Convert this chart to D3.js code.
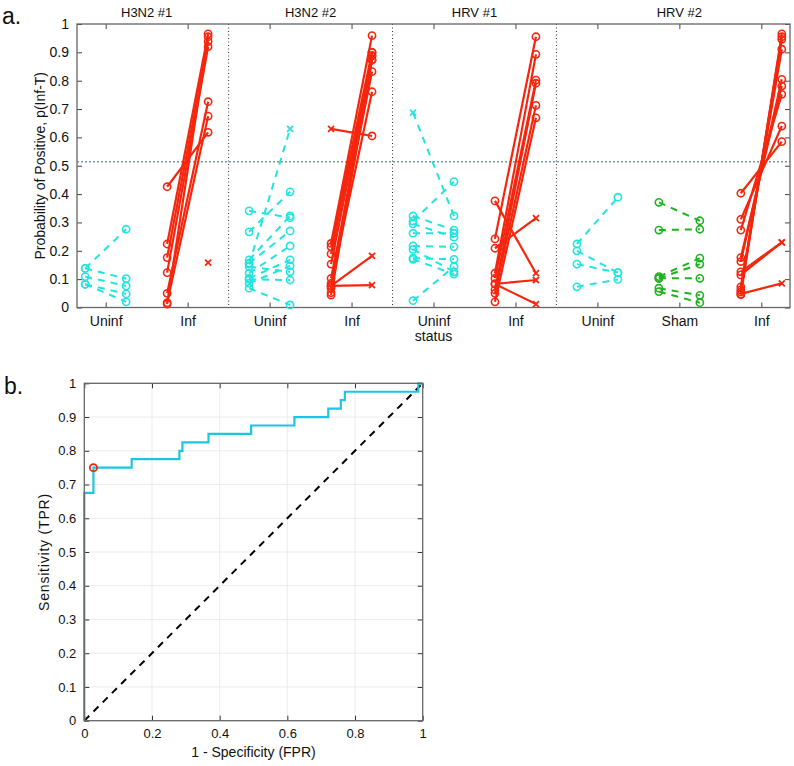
<!DOCTYPE html>
<html><head><meta charset="utf-8">
<script src="https://cdn.jsdelivr.net/npm/d3@7/dist/d3.min.js"></script>
<style>body{margin:0;background:#fff}svg{font-family:"Liberation Sans",Arial,sans-serif}</style>
</head><body>
<script>
// ---------- DATA ----------
const categories = ["Uninf","Inf","Uninf","Inf","Uninf","Inf","Uninf","Sham","Inf"];
const catPos = [1,2,3,4,5,6,7,8,9];
const titles = ["H3N2 #1","H3N2 #2","HRV #1","HRV #2"];
const titlePos = [1.5,3.5,5.5,8];
const dividers = [2.5,4.5,6.5];
const threshold = 0.514;
const yTicksA = [0,0.1,0.2,0.3,0.4,0.5,0.6,0.7,0.8,0.9,1];
// each subject: [before, after, markers(before,after)]
const h3n2_1_uninf = [[0.138,0.276,"oo"],[0.138,0.102,"oo"],[0.109,0.076,"oo"],[0.082,0.048,"oo"],[0.082,0.020,"oo"]];
const h3n2_1_inf = [[0.426,0.618,"oo"],[0.224,0.965,"oo"],[0.176,0.938,"oo"],[0.123,0.920,"oo"],[0.050,0.726,"oo"],[0.017,0.675,"oo"],[0.012,0.955,"oo"],[null,0.158,"xx"]];
const h3n2_2_uninf = [[0.341,0.317,"oo"],[0.267,0.408,"oo"],[0.168,0.323,"oo"],[0.156,0.270,"oo"],[0.153,0.630,"ox"],[0.144,0.126,"oo"],[0.121,0.217,"oo"],[0.103,0.168,"oo"],[0.099,0.097,"oo"],[0.085,0.147,"oo"],[0.068,0.009,"oo"]];
const h3n2_2_inf = [[0.630,0.605,"xo"],[0.226,0.959,"oo"],[0.214,0.900,"oo"],[0.189,0.888,"oo"],[0.153,0.873,"oo"],[0.103,0.832,"oo"],[0.085,0.761,"oo"],[0.076,0.182,"ox"],[0.076,0.079,"ox"],[0.068,0.900,"oo"],[0.052,0.888,"oo"],[0.044,0.873,"oo"]];
const hrv_1_uninf = [[0.687,0.323,"xo"],[0.323,0.273,"oo"],[0.305,0.444,"oo"],[0.295,0.248,"oo"],[0.262,0.262,"oo"],[0.217,0.214,"oo"],[0.205,0.126,"oo"],[0.174,0.170,"oo"],[0.170,0.118,"oo"],[0.024,0.144,"oo"]];
const hrv_1_inf = [[0.376,0.121,"ox"],[0.242,0.955,"oo"],[0.209,0.315,"ox"],[0.121,0.893,"oo"],[0.103,0.802,"oo"],[0.083,0.097,"ox"],[0.083,0.012,"ox"],[0.062,0.791,"oo"],[0.050,0.713,"oo"],[0.020,0.669,"oo"]];
const hrv_2_uninf = [[0.224,0.389,"oo"],[0.200,0.123,"oo"],[0.153,0.123,"oo"],[0.073,0.099,"oo"]];
const hrv_2_sham = [[0.371,0.306,"oo"],[0.273,0.276,"oo"],[0.109,0.174,"oo"],[0.103,0.153,"oo"],[0.103,0.103,"oo"],[0.068,0.043,"oo"],[0.056,0.017,"oo"]];
const hrv_2_inf = [[0.403,0.585,"oo"],[0.311,0.640,"oo"],[0.273,0.752,"oo"],[0.176,0.781,"oo"],[0.162,0.805,"oo"],[0.126,0.230,"ox"],[0.115,0.230,"ox"],[0.073,0.911,"oo"],[0.062,0.946,"oo"],[0.055,0.955,"oo"],[0.048,0.085,"ox"],[0.045,0.965,"oo"]];
const groups = [
  {pos:1, type:"uninf", data:h3n2_1_uninf},{pos:2, type:"inf", data:h3n2_1_inf},
  {pos:3, type:"uninf", data:h3n2_2_uninf},{pos:4, type:"inf", data:h3n2_2_inf},
  {pos:5, type:"uninf", data:hrv_1_uninf},{pos:6, type:"inf", data:hrv_1_inf},
  {pos:7, type:"uninf", data:hrv_2_uninf},{pos:8, type:"sham", data:hrv_2_sham},{pos:9, type:"inf", data:hrv_2_inf}];
// ROC
const rocFPR = [0,0,0.027,0.14,0.281,0.29,0.367,0.493,0.621,0.721,0.758,0.770,0.987,1];
const rocTPR = [0,0.675,0.75,0.775,0.8,0.825,0.85,0.875,0.9,0.925,0.95,0.975,1,1];
const opPoint = [0.027,0.75];
const ticksBx = [0,0.2,0.4,0.6,0.8,1];
const ticksBy = [0,0.1,0.2,0.3,0.4,0.5,0.6,0.7,0.8,0.9,1];

// ---------- STYLES ----------
const col = {uninf:"#22e4e0", inf:"#f5260e", sham:"#1fb41f"};
const W=794,H=766;
const svg = d3.select("body").append("svg").attr("width",W).attr("height",H);

// ---------- PANEL A ----------
const ax = {l:77,r:790,t:24,b:307.5};
const x = d3.scaleLinear().domain([0.65,9.35]).range([ax.l,ax.r]);
const y = d3.scaleLinear().domain([0,1]).range([ax.b,ax.t]);
const gA = svg.append("g");
const fmt = d => d===0?"0":(d===1?"1":d3.format(".1f")(d));

gA.selectAll("line.div").data(dividers).join("line")
  .attr("x1",d=>x(d)).attr("x2",d=>x(d)).attr("y1",ax.t).attr("y2",ax.b)
  .attr("stroke","#333").attr("stroke-width",1).attr("stroke-dasharray","1,2.5");
gA.append("line").attr("x1",ax.l).attr("x2",ax.r).attr("y1",y(threshold)).attr("y2",y(threshold))
  .attr("stroke","#7a9a9a").attr("stroke-width",1.6).attr("stroke-dasharray","2,2");

const yl = gA.append("g").attr("transform",`translate(${ax.l},0)`)
  .call(d3.axisLeft(y).tickValues(yTicksA).tickFormat(fmt).tickSizeInner(-5).tickSizeOuter(0).tickPadding(8));
const yr = gA.append("g").attr("transform",`translate(${ax.r},0)`)
  .call(d3.axisRight(y).tickValues(yTicksA).tickFormat("").tickSizeInner(-5).tickSizeOuter(0));
const xb = gA.append("g").attr("transform",`translate(0,${ax.b})`)
  .call(d3.axisBottom(x).tickValues(catPos).tickFormat((d,i)=>categories[i]).tickSizeInner(-5).tickSizeOuter(0).tickPadding(9));
const xt = gA.append("g").attr("transform",`translate(0,${ax.t})`)
  .call(d3.axisTop(x).tickValues(catPos).tickFormat("").tickSizeInner(-5).tickSizeOuter(0));
[yl,yr,xb,xt].forEach(g=>{g.select(".domain").remove();g.selectAll("line").attr("stroke","#444");
  g.selectAll("text").attr("font-size",14).attr("fill","#111").attr("font-family","Liberation Sans, Arial, sans-serif");});
gA.append("rect").attr("x",ax.l).attr("y",ax.t).attr("width",ax.r-ax.l).attr("height",ax.b-ax.t)
  .attr("fill","none").attr("stroke","#666").attr("stroke-width",1.3);

gA.selectAll("text.title").data(titles).join("text").attr("class","title")
  .attr("x",(d,i)=>x(titlePos[i])).attr("y",17).attr("text-anchor","middle").attr("font-size",13).attr("fill","#111").text(d=>d);
gA.append("text").attr("x",x(5)).attr("y",341).attr("text-anchor","middle").attr("font-size",14).attr("fill","#111").text("status");
gA.append("text").attr("transform",`translate(45,${(ax.t+ax.b)/2}) rotate(-90)`).attr("text-anchor","middle")
  .attr("font-size",14).attr("fill","#111").text("Probability of Positive, p(Inf-T)");
svg.append("text").attr("x",2).attr("y",24).attr("font-size",23).attr("fill","#111").text("a.");

const off = 0.25;
function marker(g, cx, cy, m, c){
  if(m==="o"){ g.append("circle").attr("cx",cx).attr("cy",cy).attr("r",3.6).attr("fill","none").attr("stroke",c).attr("stroke-width",1.6); }
  else { const s=3; g.append("path").attr("d",`M${cx-s},${cy-s}L${cx+s},${cy+s}M${cx-s},${cy+s}L${cx+s},${cy-s}`).attr("stroke",c).attr("stroke-width",1.8); }
}
const gD = gA.append("g");
groups.forEach(gr=>{
  const c = col[gr.type]; const dashed = gr.type!=="inf";
  gr.data.forEach(s=>{
    const x1=x(gr.pos-off), x2=x(gr.pos+off);
    if(s[0]!==null && s[1]!==null){
      gD.append("line").attr("x1",x1).attr("y1",y(s[0])).attr("x2",x2).attr("y2",y(s[1]))
        .attr("stroke",c).attr("stroke-width",dashed?2:2.2).attr("stroke-dasharray",dashed?"7,6":null);
    }
  });
  gr.data.forEach(s=>{
    if(s[0]!==null) marker(gD,x(gr.pos-off),y(s[0]),s[2][0],c);
    if(s[1]!==null) marker(gD,x(gr.pos+off),y(s[1]),s[2][1],c);
  });
});

// ---------- PANEL B ----------
const bx = {l:84.3,r:422.7,t:383.3,b:720.7};
const xB = d3.scaleLinear().domain([0,1]).range([bx.l,bx.r]);
const yB = d3.scaleLinear().domain([0,1]).range([bx.b,bx.t]);
const gB = svg.append("g");
gB.selectAll("line.gx").data(ticksBx.slice(1,-1)).join("line")
  .attr("x1",d=>xB(d)).attr("x2",d=>xB(d)).attr("y1",bx.t).attr("y2",bx.b).attr("stroke","#ececec").attr("stroke-width",1);
gB.selectAll("line.gy").data(ticksBy.slice(1,-1)).join("line")
  .attr("y1",d=>yB(d)).attr("y2",d=>yB(d)).attr("x1",bx.l).attr("x2",bx.r).attr("stroke","#ececec").attr("stroke-width",1);
const byl = gB.append("g").attr("transform",`translate(${bx.l},0)`)
  .call(d3.axisLeft(yB).tickValues(ticksBy).tickFormat(fmt).tickSizeInner(-5).tickSizeOuter(0).tickPadding(8));
const byr = gB.append("g").attr("transform",`translate(${bx.r},0)`)
  .call(d3.axisRight(yB).tickValues(ticksBy).tickFormat("").tickSizeInner(-5).tickSizeOuter(0));
const bxb = gB.append("g").attr("transform",`translate(0,${bx.b})`)
  .call(d3.axisBottom(xB).tickValues(ticksBx).tickFormat(fmt).tickSizeInner(-5).tickSizeOuter(0).tickPadding(8));
const bxt = gB.append("g").attr("transform",`translate(0,${bx.t})`)
  .call(d3.axisTop(xB).tickValues(ticksBx).tickFormat("").tickSizeInner(-5).tickSizeOuter(0));
[byl,byr,bxb,bxt].forEach(g=>{g.select(".domain").remove();g.selectAll("line").attr("stroke","#333");
  g.selectAll("text").attr("font-size",13).attr("fill","#111").attr("font-family","Liberation Sans, Arial, sans-serif");});
gB.append("line").attr("x1",xB(0)).attr("y1",yB(0)).attr("x2",xB(1)).attr("y2",yB(1))
  .attr("stroke","#000").attr("stroke-width",2).attr("stroke-dasharray","7,6");
const rocPts = rocFPR.map((f,i)=>[f,rocTPR[i]]);
gB.append("path").attr("d",d3.line().x(d=>xB(d[0])).y(d=>yB(d[1])).curve(d3.curveStepAfter)(rocPts))
  .attr("fill","none").attr("stroke","#1cc6e2").attr("stroke-width",2.2);
gB.append("circle").attr("cx",xB(opPoint[0])).attr("cy",yB(opPoint[1])).attr("r",3.6)
  .attr("fill","none").attr("stroke","#f5260e").attr("stroke-width",1.8);
gB.append("rect").attr("x",bx.l).attr("y",bx.t).attr("width",bx.r-bx.l).attr("height",bx.b-bx.t)
  .attr("fill","none").attr("stroke","#666").attr("stroke-width",1.3);
gB.append("text").attr("x",(bx.l+bx.r)/2).attr("y",757).attr("text-anchor","middle").attr("font-size",14).attr("fill","#111")
  .text("1 - Specificity (FPR)");
gB.append("text").attr("transform",`translate(49,${(bx.t+bx.b)/2}) rotate(-90)`).attr("text-anchor","middle")
  .attr("font-size",14).attr("letter-spacing",0.8).attr("fill","#111").text("Sensitivity (TPR)");
svg.append("text").attr("x",4).attr("y",394).attr("font-size",23).attr("fill","#111").text("b.");
</script>
</body></html>
